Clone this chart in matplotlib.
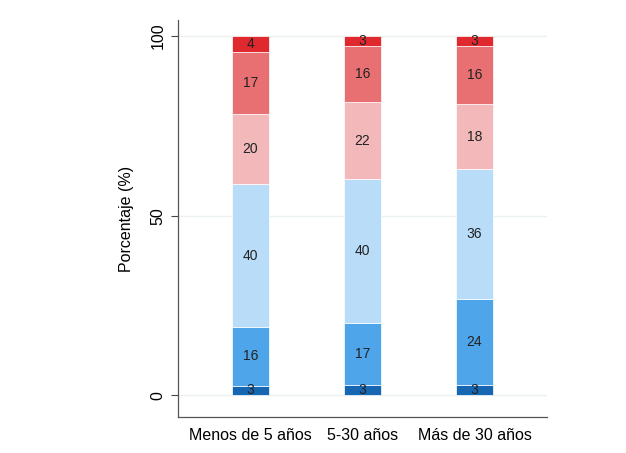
import matplotlib.pyplot as plt
import numpy as np

plt.rcParams['font.family'] = ['Liberation Sans', 'DejaVu Sans']

categories = ['Menos de 5 años', '5-30 años', 'Más de 30 años']

# segmentos de abajo hacia arriba (porcentaje)
seg1 = [2.6, 2.9, 2.9]
seg2 = [16.4, 17.3, 24.0]
seg3 = [39.7, 39.9, 36.1]
seg4 = [19.6, 21.6, 18.0]
seg5 = [17.3, 15.6, 16.2]
seg6 = [4.4, 2.7, 2.8]

series = [seg1, seg2, seg3, seg4, seg5, seg6]
colors = ['#1766b2', '#4fa5ea', '#b9dcf8', '#f2b8ba', '#e87073', '#e0292f']

fig = plt.figure(figsize=(6.26, 4.53), dpi=100)
ax = fig.add_axes([0.2843, 0.0795, 0.5895, 0.8763])

x = np.arange(1, len(categories) + 1)
bottom = np.zeros(len(categories))
for vals, col in zip(series, colors):
    vals = np.array(vals)
    ax.bar(x, vals, width=0.33, bottom=bottom, color=col,
           edgecolor='#ffffff', linewidth=0.5, zorder=3)
    for xi, b, v in zip(x, bottom, vals):
        ax.text(xi, b + v / 2, f'{v:.0f}', ha='center', va='center',
                fontsize=10, color='#222222', zorder=4)
    bottom += vals

ax.set_xlim(0.353, 3.647)
ax.set_ylim(-6.1, 104.5)
ax.set_yticks([0, 50, 100])
ax.set_yticklabels(['0', '50', '100'], rotation=90, va='center', fontsize=11.5)
ax.set_xticks(x)
ax.set_xticklabels(categories, fontsize=11.5)
ax.tick_params(axis='x', length=0, pad=8)
ax.tick_params(axis='y', length=5, width=0.8, color='#444444', pad=4)
ax.set_ylabel('Porcentaje (%)', fontsize=11.5, labelpad=12)

ax.grid(axis='y', color='#eaf0f4', linewidth=1, zorder=0)
ax.set_axisbelow(True)
for s in ['top', 'right']:
    ax.spines[s].set_visible(False)
for s in ['left', 'bottom']:
    ax.spines[s].set_color('#555555')
    ax.spines[s].set_linewidth(0.9)

fig.savefig('out.png', dpi=100)
